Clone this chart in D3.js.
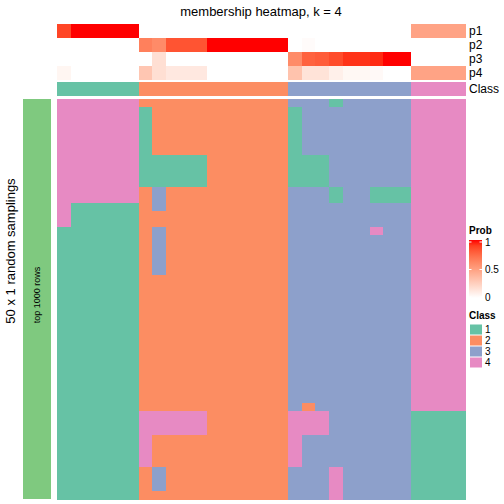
<!DOCTYPE html>
<html>
<head>
<meta charset="utf-8">
<script src="https://cdn.jsdelivr.net/npm/d3@7"></script>
<style>
  html, body { margin: 0; padding: 0; background: #fff; }
  svg { display: block; font-family: "Liberation Sans", Arial, Helvetica, sans-serif; }
</style>
</head>
<body>
<svg id="chart" width="504" height="504"></svg>
<script>
// ---------------- data ----------------
const titleText = "membership heatmap, k = 4";
const classLabels = ["1", "2", "3", "4"];
const classColors = ["#66C2A5", "#FC8D62", "#8DA0CB", "#E78AC3"];
const columnClass = [1,1,1,1,1,1, 2,2,2,2,2,2,2,2,2,2,2, 3,3,3,3,3,3,3,3,3, 4,4,4,4];
const probNames = ["p1", "p2", "p3", "p4"];
const p1 = [0.88,1,1,1,1,1, 0,0,0,0,0,0,0,0,0,0,0, 0,0,0,0,0,0,0,0,0, 0.48,0.48,0.48,0.48];
const p2 = [0,0,0,0,0,0, 0.65,0.6,0.83,0.83,0.83,1,1,1,1,1,1, 0,0.02,0,0,0,0,0,0,0, 0,0,0,0];
const p3 = [0,0,0,0,0,0, 0,0.17,0,0,0,0,0,0,0,0,0, 0.6,0.78,0.8,0.86,0.93,0.93,0.95,1,1, 0,0,0,0];
const p4 = [0.05,0,0,0,0,0, 0.3,0.17,0.12,0.12,0.12,0,0,0,0,0,0, 0.32,0.15,0.15,0.08,0.04,0.04,0.03,0,0, 0.48,0.48,0.48,0.48];
const probTicks = [0, 0.5, 1];
// class assigned in each of the 50 random samplings (rows) for each of the 30 columns
const samplingClasses = [
  "444444" + "22222222222" + "333133333" + "4444",
  "444444" + "12222222222" + "133333333" + "4444",
  "444444" + "12222222222" + "133333333" + "4444",
  "444444" + "12222222222" + "133333333" + "4444",
  "444444" + "12222222222" + "133333333" + "4444",
  "444444" + "12222222222" + "133333333" + "4444",
  "444444" + "12222222222" + "133333333" + "4444",
  "444444" + "11111222222" + "111333333" + "4444",
  "444444" + "11111222222" + "111333333" + "4444",
  "444444" + "11111222222" + "111333333" + "4444",
  "444444" + "11111222222" + "111333333" + "4444",
  "444444" + "23222222222" + "333133111" + "4444",
  "444444" + "23222222222" + "333133111" + "4444",
  "411111" + "23222222222" + "333333333" + "4444",
  "411111" + "22222222222" + "333333333" + "4444",
  "411111" + "22222222222" + "333333333" + "4444",
  "111111" + "23222222222" + "333333433" + "4444",
  "111111" + "23222222222" + "333333333" + "4444",
  "111111" + "23222222222" + "333333333" + "4444",
  "111111" + "23222222222" + "333333333" + "4444",
  "111111" + "23222222222" + "333333333" + "4444",
  "111111" + "23222222222" + "333333333" + "4444",
  "111111" + "22222222222" + "333333333" + "4444",
  "111111" + "22222222222" + "333333333" + "4444",
  "111111" + "22222222222" + "333333333" + "4444",
  "111111" + "22222222222" + "333333333" + "4444",
  "111111" + "22222222222" + "333333333" + "4444",
  "111111" + "22222222222" + "333333333" + "4444",
  "111111" + "22222222222" + "333333333" + "4444",
  "111111" + "22222222222" + "333333333" + "4444",
  "111111" + "22222222222" + "333333333" + "4444",
  "111111" + "22222222222" + "333333333" + "4444",
  "111111" + "22222222222" + "333333333" + "4444",
  "111111" + "22222222222" + "333333333" + "4444",
  "111111" + "22222222222" + "333333333" + "4444",
  "111111" + "22222222222" + "333333333" + "4444",
  "111111" + "22222222222" + "333333333" + "4444",
  "111111" + "22222222222" + "333333333" + "4444",
  "111111" + "22222222222" + "323333333" + "4444",
  "111111" + "44444222222" + "444333333" + "1111",
  "111111" + "44444222222" + "444333333" + "1111",
  "111111" + "44444222222" + "444333333" + "1111",
  "111111" + "42222222222" + "433333333" + "1111",
  "111111" + "42222222222" + "433333333" + "1111",
  "111111" + "42222222222" + "433333333" + "1111",
  "111111" + "42222222222" + "433333333" + "1111",
  "111111" + "23222222222" + "333433333" + "1111",
  "111111" + "23222222222" + "333433333" + "1111",
  "111111" + "23222222222" + "333433333" + "1111",
  "111111" + "22222222222" + "333433333" + "1111"
];
const rowTitle = "50 x 1 random samplings";
const rowGroupLabel = "top 1000 rows";

// ---------------- drawing ----------------
const svg = d3.select("#chart");
const nCol = columnClass.length;
const nRow = samplingClasses.length;
const cols = d3.range(nCol);
const rows = d3.range(nRow);

const x = d3.scaleBand().domain(cols).range([57, 465]);
const y = d3.scaleBand().domain(rows).range([99, 499]);
const yAnn = d3.scaleBand().domain(probNames).range([24, 80]);
const classColor = d3.scaleOrdinal().domain(classLabels).range(classColors);
const probColor = d3.scaleLinear().domain([0, 1]).range(["#FFFFFF", "#FF0000"]).interpolate(d3.interpolateLab);

const probs = { p1, p2, p3, p4 };

// title
svg.append("text").attr("x", 261).attr("y", 16).attr("text-anchor", "middle")
  .attr("font-size", 13).text(titleText);

// probability annotations
const annG = svg.append("g").attr("shape-rendering", "crispEdges");
probNames.forEach(name => {
  annG.selectAll(null).data(cols).join("rect")
    .attr("x", d => x(d)).attr("width", x.bandwidth() + 0.5)
    .attr("y", yAnn(name)).attr("height", yAnn.bandwidth())
    .attr("fill", d => probColor(probs[name][d]));
  svg.append("text").attr("x", 469).attr("y", yAnn(name) + yAnn.bandwidth() / 2)
    .attr("dy", "0.35em").attr("font-size", 12).text(name);
});
// class annotation
annG.selectAll(null).data(cols).join("rect")
  .attr("x", d => x(d)).attr("width", x.bandwidth() + 0.5)
  .attr("y", 82).attr("height", 14)
  .attr("fill", d => classColor(String(columnClass[d])));
svg.append("text").attr("x", 469).attr("y", 89).attr("dy", "0.35em")
  .attr("font-size", 12).text("Class");

// heatmap body
const cells = [];
rows.forEach(r => cols.forEach(c => cells.push({ r, c, k: samplingClasses[r][c] })));
svg.append("g").attr("shape-rendering", "crispEdges")
  .selectAll("rect").data(cells).join("rect")
  .attr("x", d => x(d.c)).attr("y", d => y(d.r))
  .attr("width", x.bandwidth() + 0.5).attr("height", y.bandwidth() + 0.5)
  .attr("fill", d => classColor(d.k));

// left annotation bar
svg.append("rect").attr("x", 23).attr("y", y.range()[0]).attr("width", 28)
  .attr("height", y.range()[1] - y.range()[0]).attr("fill", "#7FC97F");
svg.append("text").attr("transform", "translate(37,295) rotate(-90)")
  .attr("text-anchor", "middle").attr("dy", "0.35em").attr("font-size", 9).text(rowGroupLabel);
svg.append("text").attr("transform", "translate(10,251) rotate(-90)")
  .attr("text-anchor", "middle").attr("dy", "0.35em").attr("font-size", 13).text(rowTitle);

// Prob legend
const lg = svg.append("g");
lg.append("text").attr("x", 469).attr("y", 234).attr("font-size", 10).attr("font-weight", "bold").text("Prob");
const ly = d3.scaleLinear().domain([0, 1]).range([297, 242]);
const defs = svg.append("defs");
const grad = defs.append("linearGradient").attr("id", "probGrad")
  .attr("x1", 0).attr("y1", 1).attr("x2", 0).attr("y2", 0);
d3.range(0, 1.0001, 0.1).forEach(t => {
  grad.append("stop").attr("offset", t).attr("stop-color", probColor(t));
});
lg.append("rect").attr("x", 469).attr("width", 13)
  .attr("y", ly(1) - 2).attr("height", ly(0) - ly(1) + 3).attr("fill", "url(#probGrad)");
probTicks.forEach(t => {
  lg.append("line").attr("x1", 469).attr("x2", 471.5).attr("y1", ly(t)).attr("y2", ly(t))
    .attr("stroke", "#fff").attr("stroke-width", 1);
  lg.append("line").attr("x1", 479.5).attr("x2", 482).attr("y1", ly(t)).attr("y2", ly(t))
    .attr("stroke", "#fff").attr("stroke-width", 1);
  lg.append("text").attr("x", 485).attr("y", ly(t)).attr("dy", "0.35em")
    .attr("font-size", 10).text(d3.format("~g")(t));
});

// Class legend
lg.append("text").attr("x", 469).attr("y", 319).attr("font-size", 10).attr("font-weight", "bold").text("Class");
const lc = d3.scaleBand().domain(classLabels).range([324, 368]);
lg.selectAll(null).data(classLabels).join("rect")
  .attr("x", 470).attr("width", 12)
  .attr("y", d => lc(d) + 0.5).attr("height", lc.bandwidth() - 1)
  .attr("fill", d => classColor(d));
lg.selectAll(null).data(classLabels).join("text")
  .attr("x", 485).attr("y", d => lc(d) + lc.bandwidth() / 2).attr("dy", "0.35em")
  .attr("font-size", 10).text(d => d);
</script>
</body>
</html>
